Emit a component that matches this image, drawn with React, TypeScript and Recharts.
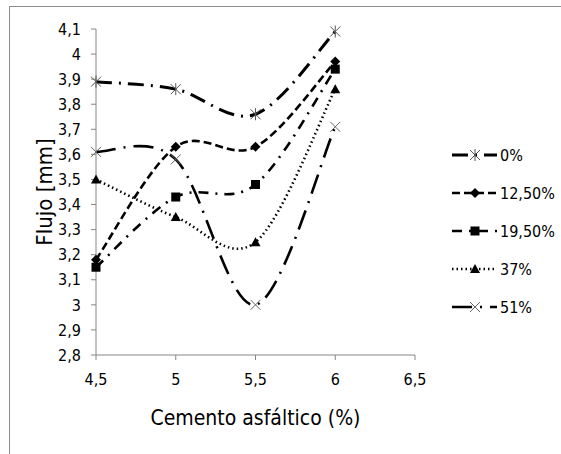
import React from 'react';
import { LineChart, Line, XAxis, YAxis, Legend } from 'recharts';

const cemento = [4.5, 5, 5.5, 6];
const flujo0 = [3.89, 3.86, 3.76, 4.09];
const flujo125 = [3.18, 3.63, 3.63, 3.97];
const flujo195 = [3.15, 3.43, 3.48, 3.94];
const flujo37 = [3.5, 3.35, 3.25, 3.86];
const flujo51 = [3.61, 3.58, 3.0, 3.71];

const xTicks = [4.5, 5, 5.5, 6, 6.5];
const yTicks = [2.8, 2.9, 3, 3.1, 3.2, 3.3, 3.4, 3.5, 3.6, 3.7, 3.8, 3.9, 4, 4.1];

const data = cemento.map((c, i) => ({
  c,
  s0: flujo0[i],
  s125: flujo125[i],
  s195: flujo195[i],
  s37: flujo37[i],
  s51: flujo51[i],
}));

type Marker = 'star' | 'diamond' | 'square' | 'triangle' | 'cross';

const series: { key: string; name: string; dash: string; width: number; marker: Marker }[] = [
  { key: 's0', name: '0%', dash: '16 7 2 7', width: 3, marker: 'star' },
  { key: 's125', name: '12,50%', dash: '8 4', width: 2.6, marker: 'diamond' },
  { key: 's195', name: '19,50%', dash: '10 7 2 7', width: 2.6, marker: 'square' },
  { key: 's37', name: '37%', dash: '1.5 3', width: 2.6, marker: 'triangle' },
  { key: 's51', name: '51%', dash: '20 8 2 8', width: 2.6, marker: 'cross' },
];

const FONT = "'Liberation Sans Narrow', 'DejaVu Sans Condensed', Arial, sans-serif";
const AXIS = '#868686';

// smoothed line like spreadsheet charts: cubic bezier with catmull-rom tangents
function smoothCurve(context: any) {
  let pts: [number, number][] = [];
  return {
    areaStart() {},
    areaEnd() {},
    lineStart() {
      pts = [];
    },
    point(x: number, y: number) {
      pts.push([x, y]);
    },
    lineEnd() {
      if (!pts.length) return;
      context.moveTo(pts[0][0], pts[0][1]);
      for (let i = 0; i < pts.length - 1; i++) {
        const p0 = pts[i - 1] || pts[i];
        const p1 = pts[i];
        const p2 = pts[i + 1];
        const p3 = pts[i + 2] || pts[i + 1];
        context.bezierCurveTo(
          p1[0] + (p2[0] - p0[0]) / 6,
          p1[1] + (p2[1] - p0[1]) / 6,
          p2[0] - (p3[0] - p1[0]) / 6,
          p2[1] - (p3[1] - p1[1]) / 6,
          p2[0],
          p2[1]
        );
      }
    },
  };
}

function MarkerShape({ cx, cy, type }: { cx: number; cy: number; type: Marker }) {
  const r = 5;
  switch (type) {
    case 'star':
      return (
        <g stroke="#555" strokeWidth={1}>
          <line x1={cx - r} y1={cy - r} x2={cx + r} y2={cy + r} />
          <line x1={cx - r} y1={cy + r} x2={cx + r} y2={cy - r} />
          <line x1={cx} y1={cy - r - 1} x2={cx} y2={cy + r + 1} />
        </g>
      );
    case 'diamond':
      return <polygon points={`${cx},${cy - r} ${cx + r},${cy} ${cx},${cy + r} ${cx - r},${cy}`} fill="#000" />;
    case 'square':
      return <rect x={cx - 4.5} y={cy - 4.5} width={9} height={9} fill="#000" />;
    case 'triangle':
      return <polygon points={`${cx},${cy - r} ${cx + r},${cy + 4} ${cx - r},${cy + 4}`} fill="#000" />;
    default:
      return (
        <g stroke="#666" strokeWidth={1}>
          <line x1={cx - r} y1={cy - r} x2={cx + r} y2={cy + r} />
          <line x1={cx - r} y1={cy + r} x2={cx + r} y2={cy - r} />
        </g>
      );
  }
}

function renderLegend() {
  return (
    <div style={{ fontFamily: FONT, fontSize: 16 }}>
      {series.map((s) => (
        <div key={s.key} style={{ display: 'flex', alignItems: 'center', height: 38 }}>
          <svg width={48} height={14}>
            <line
              x1={0}
              y1={7}
              x2={45}
              y2={7}
              stroke="#000"
              strokeWidth={s.width}
              strokeDasharray={s.dash}
            />
            <MarkerShape cx={23} cy={7} type={s.marker} />
          </svg>
          <span>{s.name}</span>
        </div>
      ))}
    </div>
  );
}

export default function App() {
  return (
    <div style={{ position: 'absolute', left: 0, top: 0, width: 561, height: 454, overflow: 'hidden', background: '#fff' }}>
      <div
        style={{
          position: 'absolute',
          left: 9,
          top: 6,
          width: 700,
          height: 600,
          borderLeft: '1px solid #8c8c8c',
          borderTop: '1px solid #8c8c8c',
        }}
      />
      <div style={{ position: 'absolute', left: 0, top: 0 }}>
        <LineChart width={561} height={454} data={data} margin={{ top: 29, right: 146, bottom: 0, left: 0 }}>
          <XAxis
            dataKey="c"
            type="number"
            domain={[4.5, 6.5]}
            ticks={xTicks}
            tickFormatter={(v: number) => String(v).replace('.', ',')}
            stroke={AXIS}
            tickSize={5}
            tickMargin={14}
            height={99}
            tick={{ fill: '#000', fontSize: 16, fontFamily: FONT }}
            label={{
              value: 'Cemento asfáltico (%)',
              position: 'insideTop',
              offset: 55,
              style: { fill: '#000', fontSize: 21, fontFamily: FONT },
            }}
          />
          <YAxis
            type="number"
            domain={[2.8, 4.1]}
            ticks={yTicks}
            tickFormatter={(v: number) => String(v).replace('.', ',')}
            stroke={AXIS}
            tickSize={5}
            tickMargin={10}
            width={96}
            interval={0}
            tick={{ fill: '#000', fontSize: 16, fontFamily: FONT }}
            label={{
              value: 'Flujo [mm]',
              angle: -90,
              position: 'insideLeft',
              offset: 44,
              style: { fill: '#000', fontSize: 22, fontFamily: FONT, textAnchor: 'middle' },
            }}
          />
          <Legend
            layout="vertical"
            verticalAlign="middle"
            align="center"
            content={renderLegend}
            wrapperStyle={{ left: 452, top: 136, width: 110 }}
          />
          {series.map((s) => (
            <Line
              key={s.key}
              dataKey={s.key}
              name={s.name}
              type={smoothCurve as any}
              stroke="#000"
              strokeWidth={s.width}
              strokeDasharray={s.dash}
              isAnimationActive={false}
              dot={(p: any) => <MarkerShape key={`${s.key}-${p.index}`} cx={p.cx} cy={p.cy} type={s.marker} />}
            />
          ))}
        </LineChart>
      </div>
    </div>
  );
}
